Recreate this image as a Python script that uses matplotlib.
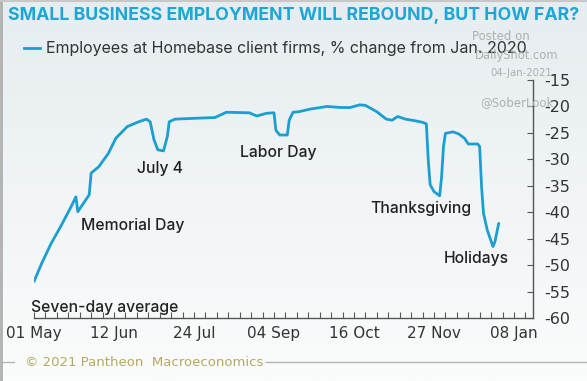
import numpy as np
import pandas as pd
import matplotlib
matplotlib.use("Agg")
import matplotlib.pyplot as plt
from matplotlib.colors import LinearSegmentedColormap

# ---- data (seven-day average, % change from Jan 2020) ----
dates = ["2020-05-01", "2020-05-05", "2020-05-10", "2020-05-15", "2020-05-20", "2020-05-23",
         "2020-05-24", "2020-05-30", "2020-05-31", "2020-06-04", "2020-06-09", "2020-06-13",
         "2020-06-19", "2020-06-25", "2020-06-29", "2020-07-01", "2020-07-03", "2020-07-05",
         "2020-07-08", "2020-07-10", "2020-07-11", "2020-07-14", "2020-07-27", "2020-08-04",
         "2020-08-10", "2020-08-22", "2020-08-26", "2020-08-31", "2020-09-04", "2020-09-05",
         "2020-09-07", "2020-09-11", "2020-09-12", "2020-09-14", "2020-09-17", "2020-09-23",
         "2020-10-02", "2020-10-09", "2020-10-14", "2020-10-19", "2020-10-22", "2020-10-28",
         "2020-11-02", "2020-11-05", "2020-11-08", "2020-11-12", "2020-11-17", "2020-11-21",
         "2020-11-23", "2020-11-24", "2020-11-25", "2020-11-27", "2020-11-30", "2020-12-01",
         "2020-12-02", "2020-12-03", "2020-12-07", "2020-12-10", "2020-12-13", "2020-12-15",
         "2020-12-20", "2020-12-21", "2020-12-22", "2020-12-23", "2020-12-25", "2020-12-28",
         "2020-12-29", "2020-12-31"]
values = [-53.1, -49.7, -45.9, -42.7, -39.3, -37.1,
          -39.9, -36.7, -32.6, -31.4, -28.9, -26.0,
          -23.8, -22.9, -22.4, -22.9, -26.3, -28.2,
          -28.4, -25.7, -22.9, -22.4, -22.2, -22.1,
          -21.1, -21.2, -21.8, -21.3, -21.2, -24.5,
          -25.4, -25.4, -22.6, -21.1, -21.0, -20.5,
          -20.0, -20.2, -20.2, -19.7, -19.8, -21.0,
          -22.4, -22.6, -21.9, -22.4, -22.7, -23.0,
          -23.3, -30.1, -34.8, -36.1, -36.9, -33.3,
          -27.6, -25.1, -24.8, -25.2, -26.0, -27.1,
          -27.1, -27.6, -35.2, -40.2, -43.4, -46.5,
          -45.6, -42.1]
xtick_labels = ["01 May", "12 Jun", "24 Jul", "04 Sep", "16 Oct", "27 Nov", "08 Jan"]
ytick_values = [-15, -20, -25, -30, -35, -40, -45, -50, -55, -60]
annotations = [("Seven-day average", "2020-06-07", -58.0),
               ("Memorial Day", "2020-06-22", -42.6),
               ("July 4", "2020-07-06", -31.8),
               ("Labor Day", "2020-09-06", -28.7),
               ("Thanksgiving", "2020-11-20", -39.3),
               ("Holidays", "2020-12-19", -48.7)]

start = pd.Timestamp("2020-05-01")
days = np.array([(pd.Timestamp(d) - start).days for d in dates])
tick_days = [(pd.Timestamp(f"{l} {2021 if 'Jan' in l else 2020}") - start).days for l in xtick_labels]

W, H = 587, 381
fig = plt.figure(figsize=(W / 100, H / 100), dpi=100)

# background gradient
bg = fig.add_axes([0, 0, 1, 1], zorder=-10)
grad = np.linspace(0, 1, 256).reshape(-1, 1)
cmap = LinearSegmentedColormap.from_list("bg", ["#e6edf0", "#fbfcfc"])
bg.imshow(grad, aspect="auto", cmap=cmap, extent=[0, 1, 0, 1], origin="upper")
bg.set_xlim(0, 1); bg.set_ylim(0, 1)
bg.axis("off")
bg.plot([0.002, 0.002], [0, 1], color="#b0b0b0", lw=2, transform=bg.transAxes)
bg.plot([0, 1], [0.998, 0.998], color="#c8c8c8", lw=1.5, transform=bg.transAxes)

ax = fig.add_axes([34 / W, 1 - 318 / H, (533 - 34) / W, (318 - 80) / H])
ax.set_facecolor("none")
blue = "#1a9fd0"
ax.plot(days, values, color=blue, lw=2.0, solid_joinstyle="round", solid_capstyle="round")
ax.set_xlim(0, 262)
ax.set_ylim(-60, -15)

for s in ["top", "left"]:
    ax.spines[s].set_visible(False)
for s in ["right", "bottom"]:
    ax.spines[s].set_color("#555555")
    ax.spines[s].set_linewidth(1.0)

ax.yaxis.tick_right()
ax.set_yticks(ytick_values)
ax.set_yticklabels([str(v) for v in ytick_values])
ax.tick_params(axis="y", direction="in", length=4, width=0.8, color="#555555",
               labelsize=11.5, labelcolor="#333333", pad=8)
ax.set_xticks(tick_days)
ax.set_xticklabels(xtick_labels)
ax.set_xticks(np.arange(0, 262, 6), minor=True)
ax.tick_params(axis="x", which="both", direction="in", length=4, width=0.8, color="#555555",
               labelsize=11, labelcolor="#333333", pad=6)

for text, d, v in annotations:
    ax.text((pd.Timestamp(d) - start).days, v, text, ha="center", va="center",
            fontsize=11.3, color="#222222", fontweight="medium", family="Inter")

# title & legend
fig.text(8 / W, 1 - 16 / H, "SMALL BUSINESS EMPLOYMENT WILL REBOUND, BUT HOW FAR?",
         ha="left", va="center", color="#1ea6d6", fontsize=12.8, fontweight="bold", family="Inter")
fig.lines.append(plt.Line2D([24 / W, 40 / W], [1 - 48 / H, 1 - 48 / H], color=blue, lw=2,
                            transform=fig.transFigure))
fig.text(46 / W, 1 - 48 / H, "Employees at Homebase client firms, % change from Jan. 2020",
         ha="left", va="center", color="#333333", fontsize=11.5, family="Inter")

# watermark
wm = "#a8a8a8"
fig.text(472 / W, 1 - 36 / H, "Posted on", color=wm, fontsize=8.5, ha="left", va="center", alpha=0.9)
fig.text(475 / W, 1 - 56 / H, "DailyShot.com", color=wm, fontsize=8.3, ha="left", va="center", alpha=0.9)
fig.text(490 / W, 1 - 73 / H, "04-Jan-2021", color=wm, fontsize=7.3, ha="left", va="center", alpha=0.9)
fig.text(480 / W, 1 - 103 / H, "@SoberLook", color=wm, fontsize=8.5, ha="left", va="center", alpha=0.9)

# footer
fy = 1 - 362 / H
fig.lines.append(plt.Line2D([0, 14 / W], [fy, fy], color="#b5b5b5", lw=1, transform=fig.transFigure))
fig.lines.append(plt.Line2D([266 / W, 1], [fy, fy], color="#b5b5b5", lw=1, transform=fig.transFigure))
fig.text(25 / W, fy, "\u00a9 2021 Pantheon  Macroeconomics", color="#b5a862", fontsize=9.5,
         ha="left", va="center")

fig.savefig("out.png", dpi=100)
